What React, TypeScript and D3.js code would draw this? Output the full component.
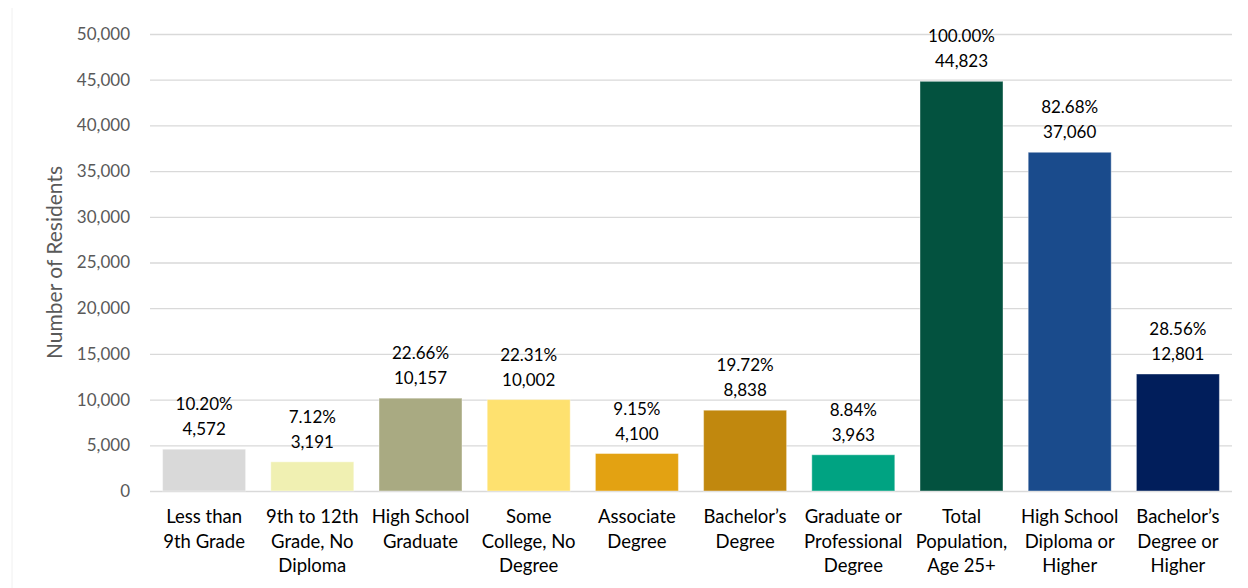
import React, { useRef, useEffect } from "react";
import * as d3 from "d3";

const categories = [
  ["Less than", "9th Grade"],
  ["9th to 12th", "Grade, No", "Diploma"],
  ["High School", "Graduate"],
  ["Some", "College, No", "Degree"],
  ["Associate", "Degree"],
  ["Bachelor\u2019s", "Degree"],
  ["Graduate or", "Professional", "Degree"],
  ["Total", "Population,", "Age 25+"],
  ["High School", "Diploma or", "Higher"],
  ["Bachelor\u2019s", "Degree or", "Higher"],
];
const residents = [4572, 3191, 10157, 10002, 4100, 8838, 3963, 44823, 37060, 12801];
const shares = ["10.20%", "7.12%", "22.66%", "22.31%", "9.15%", "19.72%", "8.84%", "100.00%", "82.68%", "28.56%"];
const barColors = ["#D9D9D9", "#F0F0B2", "#A9AA82", "#FEE16F", "#E3A212", "#C1880E", "#00A382", "#03523F", "#1A4B8C", "#011E5B"];
const yTicks = [0, 5000, 10000, 15000, 20000, 25000, 30000, 35000, 40000, 45000, 50000];

const W = 1248, H = 588;
const margin = { left: 150, right: 16, top: 34, bottom: 97 };
const font = "Lato, 'Open Sans', sans-serif";

const App = () => {
  const ref = useRef(null);

  useEffect(() => {
    document.body.style.margin = "0";
    const svg = d3.select(ref.current);
    svg.selectAll("*").remove();

    const x = d3.scaleBand()
      .domain(d3.range(residents.length).map(String))
      .range([margin.left, W - margin.right])
      .paddingInner(0.233)
      .paddingOuter(0.1165);
    const y = d3.scaleLinear([0, 50000], [H - margin.bottom, margin.top]);

    // faint frame line at left
    svg.append("line")
      .attr("x1", 12).attr("x2", 12).attr("y1", 8).attr("y2", H)
      .attr("stroke", "#f0f0f0");

    // grid + y labels
    const yAxis = d3.axisLeft(y).tickValues(yTicks)
      .tickSize(-(W - margin.left - margin.right))
      .tickPadding(20)
      .tickFormat(d3.format(","));
    svg.append("g")
      .attr("transform", `translate(${margin.left},0)`)
      .call(yAxis)
      .call(g => g.select(".domain").remove())
      .call(g => g.selectAll(".tick line").attr("stroke", "#d9d9d9").attr("stroke-width", 1.3))
      .call(g => g.selectAll(".tick text")
        .attr("fill", "#595959")
        .attr("font-size", 17)
        .attr("font-family", font));

    svg.append("text")
      .attr("transform", `translate(62,${(margin.top + H - margin.bottom) / 2}) rotate(-90)`)
      .attr("text-anchor", "middle")
      .attr("fill", "#595959")
      .attr("font-size", 21)
      .attr("font-family", font)
      .text("Number of Residents");

    // bars
    svg.append("g").selectAll("rect")
      .data(residents)
      .join("rect")
      .attr("x", (d, i) => x(String(i)))
      .attr("y", d => y(d))
      .attr("width", x.bandwidth())
      .attr("height", d => y(0) - y(d))
      .attr("fill", (d, i) => barColors[i])
      .attr("stroke", "#ffffff")
      .attr("stroke-opacity", 0.4)
      .attr("stroke-width", 1);

    // data labels
    const lbl = svg.append("g")
      .attr("font-family", font)
      .attr("font-size", 17)
      .attr("fill", "#000")
      .attr("text-anchor", "middle");
    residents.forEach((v, i) => {
      const cx = x(String(i)) + x.bandwidth() / 2;
      lbl.append("text").attr("x", cx).attr("y", y(v) - 14).text(d3.format(",")(v));
      lbl.append("text").attr("x", cx).attr("y", y(v) - 39).text(shares[i]);
    });

    // category labels
    const cat = svg.append("g")
      .attr("font-family", font)
      .attr("font-size", 18.5)
      .attr("fill", "#000")
      .attr("text-anchor", "middle");
    categories.forEach((lines, i) => {
      const cx = x(String(i)) + x.bandwidth() / 2;
      lines.forEach((t, j) => {
        cat.append("text").attr("x", cx).attr("y", y(0) + 32 + j * 24.5).text(t);
      });
    });
  }, []);

  return <svg ref={ref} width={W} height={H} style={{ display: "block", background: "#fff" }}></svg>;
};

export default App;
